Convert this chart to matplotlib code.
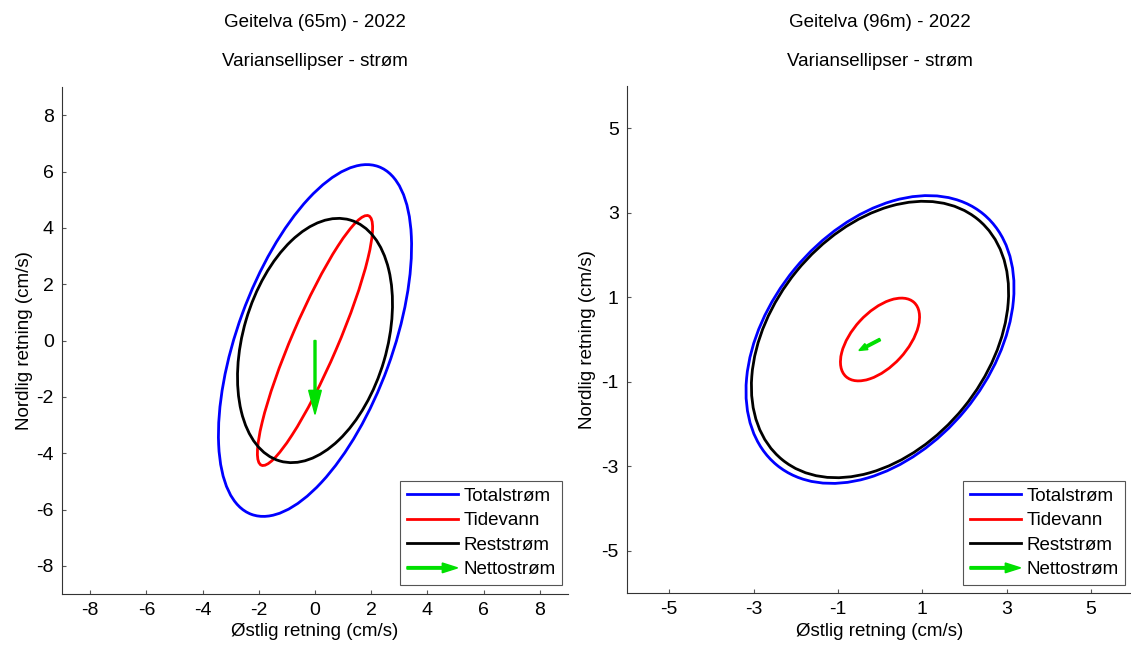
import numpy as np
import matplotlib
matplotlib.use("Agg")
import matplotlib.pyplot as plt
import matplotlib.patches as mpatches
from matplotlib.lines import Line2D
from matplotlib.legend_handler import HandlerPatch

plt.rcParams['font.family'] = ['Liberation Sans', 'DejaVu Sans']
plt.rcParams['axes.unicode_minus'] = False

# stations / depths
stations = ["Geitelva (65m) - 2022", "Geitelva (96m) - 2022"]
subtitle = "Variansellipser - strøm"
components = ["Totalstrøm", "Tidevann", "Reststrøm"]
comp_colors = ["#0000ff", "#ff0000", "#000000"]

# variance / covariance (cm/s)^2: east var, north var, covariance
var_east_65 = [11.8, 4.2, 7.6]
var_north_65 = [39.0, 19.7, 18.8]
cov_en_65 = [11.5, 8.2, 3.6]

var_east_96 = [10.1, 0.88, 9.3]
var_north_96 = [11.6, 0.96, 10.7]
cov_en_96 = [3.9, 0.5, 3.4]

# net current vector (cm/s)
net_east = [0.0, -0.5]
net_north = [-2.62, -0.26]

limits = [9, 6]
ticks = [[-8, -6, -4, -2, 0, 2, 4, 6, 8], [-5, -3, -1, 1, 3, 5]]

var_east = [var_east_65, var_east_96]
var_north = [var_north_65, var_north_96]
cov_en = [cov_en_65, cov_en_96]

W, H = 1131, 645
fig = plt.figure(figsize=(W / 100, H / 100), dpi=100)

ax_pos = [[62, 87, 506, 507], [627, 86, 506, 507]]  # px: left, top, width, height
arrow_style = [dict(width=0.07, head_width=0.45, head_length=0.85),
               dict(width=0.06, head_width=0.16, head_length=0.2)]
green = "#00e000"


def make_arrow(legend, orig_handle, xdescent, ydescent, width, height, fontsize):
    return mpatches.FancyArrow(-xdescent, height / 2 - ydescent, width, 0,
                               width=1.8, head_width=7.0, head_length=11,
                               length_includes_head=True, color=green)


for i in range(2):
    l, t, w, h = ax_pos[i]
    ax = fig.add_axes([l / W, (H - t - h) / H, w / W, h / H])
    lim = limits[i]

    for k in range(3):
        cov = np.array([[var_east[i][k], cov_en[i][k]],
                        [cov_en[i][k], var_north[i][k]]])
        vals, vecs = np.linalg.eigh(cov)
        ang = np.degrees(np.arctan2(vecs[1, 1], vecs[0, 1]))
        ell = mpatches.Ellipse((0, 0), 2 * np.sqrt(vals[1]), 2 * np.sqrt(vals[0]),
                               angle=ang, fill=False, edgecolor=comp_colors[k], lw=2.0)
        ax.add_patch(ell)

    ax.arrow(0, 0, net_east[i], net_north[i], color=green,
             length_includes_head=True, zorder=5, **arrow_style[i])

    ax.set_xlim(-lim, lim)
    ax.set_ylim(-lim, lim)
    ax.set_xticks(ticks[i])
    ax.set_yticks(ticks[i])
    ax.spines['top'].set_visible(False)
    ax.spines['right'].set_visible(False)
    for s in ['left', 'bottom']:
        ax.spines[s].set_color('#333333')
        ax.spines[s].set_linewidth(0.8)
    ax.tick_params(direction='in', length=3, width=0.8, color='#555555',
                   labelsize=14, pad=6)
    ax.set_xlabel("Østlig retning (cm/s)", fontsize=13.5, labelpad=3)
    ax.set_ylabel("Nordlig retning (cm/s)", fontsize=13.5, labelpad=[2, 4][i])

    cx = (l + w / 2) / W
    fig.text(cx, 1 - 27.3 / H, stations[i], ha='center', va='baseline', fontsize=13.5)
    fig.text(cx, 1 - 65.7 / H, subtitle, ha='center', va='baseline', fontsize=13.5)

    handles = [Line2D([], [], color=c, lw=2.0) for c in comp_colors]
    arrow_proxy = mpatches.FancyArrow(0, 0, 1, 0, color=green)
    handles.append(arrow_proxy)
    labels = components + ["Nettostrøm"]
    right_edge = [562, 1125][i]
    leg = ax.legend(handles, labels, loc='lower right',
                    bbox_to_anchor=(right_edge / W, 60 / H), bbox_transform=fig.transFigure,
                    borderaxespad=0, fontsize=13.5, labelspacing=0.4, handlelength=2.7,
                    handletextpad=0.3, borderpad=0.35, fancybox=False, framealpha=1,
                    edgecolor='#555555',
                    handler_map={mpatches.FancyArrow: HandlerPatch(patch_func=make_arrow)})
    leg.get_frame().set_linewidth(0.8)

fig.savefig("out.png", dpi=100)
